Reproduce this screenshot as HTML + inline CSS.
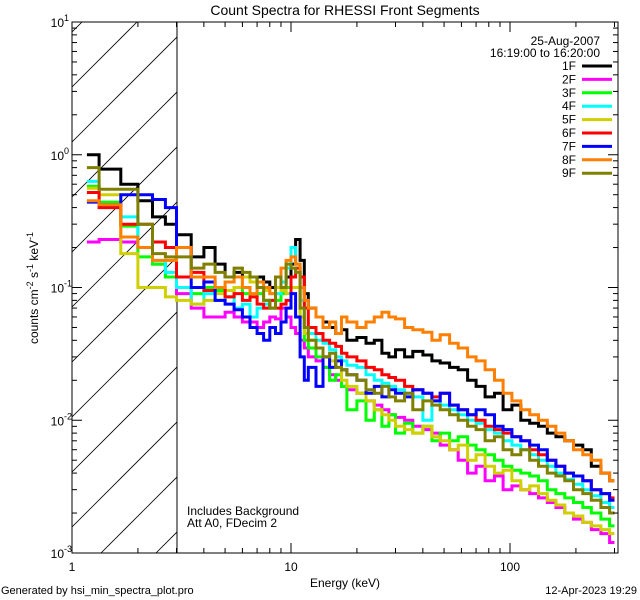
<!DOCTYPE html>
<html><head><meta charset="utf-8"><style>
html,body{margin:0;padding:0;background:#fff;width:640px;height:600px;overflow:hidden;}
svg{display:block;font-family:"Liberation Sans","DejaVu Sans",sans-serif;}
</style></head><body>
<svg id="chart" width="640" height="600" viewBox="0 0 640 600" xmlns="http://www.w3.org/2000/svg">
<rect x="0" y="0" width="640" height="600" fill="#fff"/>
<text x="345" y="15" font-size="14" text-anchor="middle">Count Spectra for RHESSI Front Segments</text>
<defs><clipPath id="hatchclip"><rect x="72" y="22" width="105" height="531"/></clipPath>
<clipPath id="plotclip"><rect x="72" y="22" width="546" height="531"/></clipPath></defs>
<g id="hatch" clip-path="url(#hatchclip)" stroke="#000" stroke-width="0.8"></g>
<line x1="177" y1="22" x2="177" y2="553" stroke="#000" stroke-width="1"/>
<g id="series" clip-path="url(#plotclip)"></g>
<rect x="72" y="22" width="546" height="531" fill="none" stroke="#000" stroke-width="1"/>
<g id="axes"></g>
<text x="345" y="587" font-size="12" text-anchor="middle">Energy (keV)</text>
<text transform="translate(38,288) rotate(-90)" font-size="12" text-anchor="middle">counts cm<tspan dy="-5" font-size="9">-2</tspan><tspan dy="5"> s</tspan><tspan dy="-5" font-size="9">-1</tspan><tspan dy="5"> keV</tspan><tspan dy="-5" font-size="9">-1</tspan></text>
<text x="187" y="515" font-size="12">Includes Background</text>
<text x="187" y="527" font-size="12">Att A0, FDecim 2</text>
<text x="1" y="594" font-size="11">Generated by hsi_min_spectra_plot.pro</text>
<text x="637" y="594" font-size="11" text-anchor="end">12-Apr-2023 19:29</text>
<text x="600" y="45" font-size="12" text-anchor="end">25-Aug-2007</text>
<text x="600" y="57" font-size="12" text-anchor="end">16:19:00 to 16:20:00</text>
<g id="legend"></g>
</svg>
<script>
const edges=[1.17,1.33,1.67,2,2.33,2.67,3,3.5,4,4.5,5,5.5,6,6.5,7,7.5,8,8.5,9,9.5,10,10.5,11,11.5,12,13,14,15,16,17,18,20,22,24,26,28,30,33,36,40,44,48,53,58,64,70,77,85,93,102,112,123,135,148,162,178,195,215,235,260,285,300];
const seriesNames=["1F","2F","3F","4F","5F","6F","7F","8F","9F"];
const seriesColors=["#000000","#ff00ff","#00ff00","#00ffff","#d0d000","#ff0000","#0000ff","#ff8000","#808000"];
const s1F=[1.0,0.78,0.6,0.45,0.34,0.3,0.25,0.17,0.2,0.15,0.12,0.13,0.12,0.11,0.12,0.11,0.1,0.12,0.11,0.12,0.15,0.23,0.16,0.09,0.07,0.06,0.055,0.05,0.045,0.048,0.04,0.042,0.038,0.04,0.032,0.03,0.034,0.03,0.033,0.031,0.028,0.027,0.025,0.024,0.02,0.018,0.015,0.016,0.012,0.013,0.01,0.0095,0.009,0.008,0.0075,0.007,0.0065,0.006,0.0045,0.004,0.0035];
const s2F=[0.22,0.23,0.22,0.2,0.15,0.12,0.09,0.07,0.06,0.06,0.065,0.06,0.055,0.055,0.05,0.055,0.06,0.058,0.07,0.06,0.05,0.045,0.04,0.035,0.03,0.028,0.025,0.022,0.02,0.018,0.017,0.016,0.014,0.013,0.012,0.011,0.0105,0.01,0.009,0.0085,0.008,0.0065,0.006,0.005,0.004,0.0045,0.0035,0.0038,0.003,0.0032,0.003,0.0028,0.0026,0.0024,0.0022,0.002,0.0018,0.0017,0.0015,0.0014,0.0012];
const s3F=[0.58,0.44,0.29,0.17,0.15,0.12,0.1,0.09,0.1,0.095,0.085,0.1,0.09,0.085,0.09,0.08,0.07,0.08,0.09,0.1,0.1,0.1,0.06,0.04,0.035,0.03,0.025,0.02,0.022,0.018,0.012,0.014,0.01,0.012,0.009,0.011,0.008,0.0095,0.008,0.009,0.007,0.008,0.007,0.0075,0.0065,0.006,0.0055,0.005,0.0045,0.0042,0.004,0.0038,0.0035,0.003,0.0028,0.0026,0.0024,0.0022,0.002,0.0018,0.0016];
const s4F=[0.63,0.42,0.34,0.2,0.16,0.13,0.1,0.075,0.09,0.08,0.085,0.07,0.075,0.06,0.07,0.075,0.08,0.09,0.11,0.14,0.2,0.15,0.08,0.05,0.045,0.04,0.038,0.034,0.03,0.028,0.026,0.025,0.022,0.02,0.019,0.018,0.017,0.016,0.015,0.01,0.014,0.013,0.012,0.011,0.01,0.0095,0.0085,0.008,0.007,0.0065,0.006,0.0055,0.005,0.0045,0.004,0.0036,0.0033,0.003,0.0027,0.0024,0.0022];
const s5F=[0.56,0.5,0.18,0.1,0.1,0.085,0.08,0.075,0.08,0.09,0.095,0.1,0.12,0.11,0.1,0.095,0.09,0.1,0.095,0.09,0.1,0.1,0.06,0.045,0.04,0.035,0.03,0.028,0.025,0.02,0.018,0.016,0.014,0.012,0.011,0.01,0.009,0.0085,0.008,0.009,0.0075,0.007,0.006,0.0065,0.005,0.0055,0.0045,0.004,0.0042,0.0035,0.003,0.0032,0.0028,0.0025,0.0023,0.002,0.0019,0.0017,0.0016,0.0015,0.0014];
const s6F=[0.52,0.4,0.3,0.3,0.22,0.2,0.12,0.13,0.095,0.1,0.085,0.09,0.08,0.085,0.075,0.07,0.08,0.07,0.075,0.08,0.12,0.14,0.12,0.07,0.05,0.045,0.04,0.038,0.036,0.032,0.03,0.028,0.025,0.024,0.022,0.021,0.02,0.018,0.017,0.016,0.015,0.016,0.013,0.012,0.011,0.01,0.009,0.0085,0.008,0.0075,0.007,0.006,0.0055,0.005,0.0045,0.004,0.0038,0.0035,0.003,0.0028,0.0026];
const s7F=[0.44,0.42,0.5,0.5,0.46,0.4,0.2,0.1,0.11,0.08,0.075,0.068,0.06,0.05,0.045,0.04,0.05,0.045,0.055,0.07,0.09,0.06,0.03,0.02,0.025,0.018,0.03,0.025,0.028,0.024,0.022,0.02,0.016,0.018,0.015,0.017,0.016,0.015,0.017,0.016,0.014,0.016,0.013,0.012,0.011,0.012,0.011,0.009,0.0085,0.0075,0.007,0.0065,0.006,0.005,0.0045,0.004,0.0038,0.0035,0.003,0.0028,0.0025];
const s8F=[0.45,0.42,0.24,0.2,0.16,0.16,0.2,0.12,0.12,0.1,0.11,0.12,0.1,0.09,0.11,0.1,0.09,0.12,0.14,0.16,0.17,0.15,0.1,0.08,0.07,0.06,0.05,0.055,0.045,0.06,0.055,0.05,0.055,0.06,0.065,0.06,0.058,0.05,0.048,0.046,0.04,0.044,0.038,0.035,0.03,0.028,0.024,0.02,0.016,0.014,0.012,0.011,0.01,0.009,0.008,0.007,0.006,0.0055,0.005,0.004,0.0035];
const s9F=[0.8,0.55,0.55,0.3,0.18,0.17,0.17,0.14,0.15,0.13,0.12,0.14,0.13,0.12,0.1,0.08,0.07,0.12,0.1,0.15,0.14,0.13,0.07,0.05,0.04,0.035,0.03,0.032,0.025,0.024,0.022,0.02,0.017,0.016,0.018,0.015,0.014,0.016,0.012,0.014,0.013,0.012,0.011,0.01,0.009,0.0085,0.007,0.0075,0.006,0.0055,0.006,0.005,0.0045,0.004,0.0038,0.0035,0.003,0.0028,0.0025,0.0022,0.002];
const seriesValues=[s1F,s2F,s3F,s4F,s5F,s6F,s7F,s8F,s9F];
const xTickLabels=["1","10","100"];
const yTickExps=["-3","-2","-1","0","1"];

const NS="http://www.w3.org/2000/svg";
const X0=72,XDEC=219,Y0=553,YDEC=132.75;
function xs(e){return X0+XDEC*Math.log10(e);}
function ys(v){return Y0-YDEC*(Math.log10(v)+3);}
function mk(tag,attrs,parent){const el=document.createElementNS(NS,tag);for(const k in attrs)el.setAttribute(k,attrs[k]);parent.appendChild(el);return el;}

const hatch=document.getElementById('hatch');
for(let k=-10;k<12;k++){
  const yy=87+k*55;
  const ln=mk('line',{x1:72,y1:yy,x2:72+600,y2:yy-600},hatch);
  
  
}

const sg=document.getElementById('series');
seriesValues.forEach((vals,si)=>{
  let d='';
  vals.forEach((v,i)=>{
    const xa=xs(edges[i]).toFixed(1),xb=xs(edges[i+1]).toFixed(1),y=ys(v).toFixed(1);
    d+=(i===0?'M':'L')+xa+' '+y+'L'+xb+' '+y;
  });
  const p=mk('path',{d:d,fill:'none',stroke:seriesColors[si],'stroke-width':3,'stroke-linejoin':'miter'},sg);
  
  
});

const ax=document.getElementById('axes');
for(let dec=0;dec<3;dec++){
  for(let m=1;m<10;m++){
    const e=m*Math.pow(10,dec); if(e>300)continue;
    const x=xs(e),L=(m===1)?10:5;
    const t1=mk('line',{x1:x,y1:553,x2:x,y2:553-L,stroke:'#000','stroke-width':1},ax);
    
    
    const t2=mk('line',{x1:x,y1:22,x2:x,y2:22+L,stroke:'#000','stroke-width':1},ax);
    
    
  }
}
xTickLabels.forEach((lab)=>{
  const t=mk('text',{x:xs(parseFloat(lab)),y:571,'font-size':12,'text-anchor':'middle'},ax);
  t.textContent=lab;
  
  
});
for(let p=-3;p<1;p++){
  for(let m=1;m<10;m++){
    const v=m*Math.pow(10,p),y=ys(v),L=(m===1)?10:5;
    const t1=mk('line',{x1:72,y1:y,x2:72+L,y2:y,stroke:'#000','stroke-width':1},ax);
    
    
    const t2=mk('line',{x1:618,y1:y,x2:618-L,y2:y,stroke:'#000','stroke-width':1},ax);
    
    
  }
}
yTickExps.forEach((ex)=>{
  const y=ys(Math.pow(10,parseFloat(ex)));
  const t=mk('text',{x:64,y:y+5,'font-size':12,'text-anchor':'end'},ax);
  t.textContent='10';
  
  
  const s=mk('text',{x:64,y:y-1,'font-size':9},ax);
  s.textContent=ex;
  
  
});

const lg=document.getElementById('legend');
seriesNames.forEach((n,i)=>{
  const y=66+i*13.4;
  const t=mk('text',{x:576,y:y+4,'font-size':12,'text-anchor':'end'},lg);
  t.textContent=n;
  
  
  const l=mk('line',{x1:582,y1:y,x2:612,y2:y,stroke:seriesColors[i],'stroke-width':3},lg);
  
  
});
</script>
</body></html>
